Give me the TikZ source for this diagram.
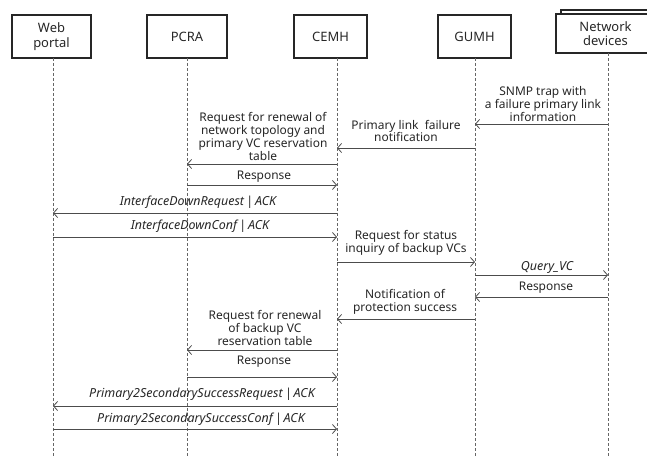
\documentclass[tikz,border=0pt]{standalone}
\usepackage{fontspec}
\setmainfont{Noto Sans}
\usetikzlibrary{arrows.meta}
\begin{document}
\begin{tikzpicture}[x=1bp,y=-1bp,
  actor/.style={draw=black!85, line width=2.1bp, align=center, inner sep=0pt,
    font=\fontsize{13}{14.5}\selectfont, text=black!85},
  life/.style={draw=black!60, line width=0.7bp, dash pattern=on 3bp off 2bp},
  msg/.style={draw=black!70, line width=0.9bp,
    -{Straight Barb[length=4bp,width=9bp,line width=0.8bp]}},
  lbl/.style={align=center, inner sep=0pt, text=black!85,
    font=\fontsize{12}{13}\selectfont},
  ilbl/.style={lbl, font=\fontsize{12.5}{13}\selectfont\itshape}]
\useasboundingbox (0,0) rectangle (647,458);

% participants
\node[actor, minimum width=79bp, minimum height=43bp] (web)  at (51.5,36.5) {Web\\portal};
\node[actor, minimum width=80bp, minimum height=43bp] (pcra) at (187,36.5) {PCRA};
\node[actor, minimum width=73bp, minimum height=43bp] (cemh) at (330.5,36.5) {CEMH};
\node[actor, minimum width=73bp, minimum height=43bp] (gumh) at (474.5,36.5) {GUMH};
% stacked box for the network devices
\draw[black!85, line width=2.1bp] (561,10) rectangle (655,49);
\node[actor, fill=white, minimum width=99bp, minimum height=39bp] (nd) at (605.5,33.5) {Network\\devices};

% lifelines
\coordinate (lW) at (53,58);
\coordinate (lP) at (187,58);
\coordinate (lC) at (337,58);
\coordinate (lG) at (475,58);
\coordinate (lN) at (608,53);
\coordinate (bottom) at (0,458);
\foreach \l in {lW,lP,lC,lG,lN}
  \draw[life] (\l) -- (\l |- bottom);

% message rows
\coordinate (m1)  at (0,124);
\coordinate (m2)  at (0,148);
\coordinate (m3)  at (0,164);
\coordinate (m4)  at (0,185);
\coordinate (m5)  at (0,213);
\coordinate (m6)  at (0,237);
\coordinate (m7)  at (0,262);
\coordinate (m8)  at (0,275);
\coordinate (m9)  at (0,297);
\coordinate (m10) at (0,319);
\coordinate (m11) at (0,350);
\coordinate (m12) at (0,377);
\coordinate (m13) at (0,406);
\coordinate (m14) at (0,429);

\draw[msg] (lN |- m1)  -- (lG |- m1);
\draw[msg] (lG |- m2)  -- (lC |- m2);
\draw[msg] (lC |- m3)  -- (lP |- m3);
\draw[msg] (lP |- m4)  -- (lC |- m4);
\draw[msg] (lC |- m5)  -- (lW |- m5);
\draw[msg] (lW |- m6)  -- (lC |- m6);
\draw[msg] (lC |- m7)  -- (lG |- m7);
\draw[msg] (lG |- m8)  -- (lN |- m8);
\draw[msg] (lN |- m9)  -- (lG |- m9);
\draw[msg] (lG |- m10) -- (lC |- m10);
\draw[msg] (lC |- m11) -- (lP |- m11);
\draw[msg] (lP |- m12) -- (lC |- m12);
\draw[msg] (lC |- m13) -- (lW |- m13);
\draw[msg] (lW |- m14) -- (lC |- m14);

% message labels
\node[lbl]  (t1)  at (543,104) {SNMP trap with\\a failure primary link\\information};
\node[lbl]  (t2)  at (406,131) {Primary link\ \ failure\\notification};
\node[lbl]  (t3)  at (263,136.5) {Request for renewal of\\network topology and\\primary VC reservation\\table};
\node[lbl]  (t4)  at (264,177) {Response};
\node[ilbl] (t5)  at (198,202) {InterfaceDownRequest\,|\,ACK};
\node[ilbl] (t6)  at (200,226) {InterfaceDownConf\,|\,ACK};
\node[lbl]  (t7)  at (406,243) {Request for status\\inquiry of backup VCs};
\node[ilbl] (t8)  at (547,267) {Query\_VC};
\node[lbl]  (t9)  at (546,288) {Response};
\node[lbl]  (t10) at (405,302) {Notification of\\protection success};
\node[lbl]  (t11) at (265,328) {Request for renewal\\of backup VC\\reservation table};
\node[lbl]  (t12) at (264,362) {Response};
\node[ilbl] (t13) at (202,394) {Primary2SecondarySuccessRequest\,|\,ACK};
\node[ilbl] (t14) at (201,419) {Primary2SecondarySuccessConf\,|\,ACK};
\end{tikzpicture}
\end{document}
